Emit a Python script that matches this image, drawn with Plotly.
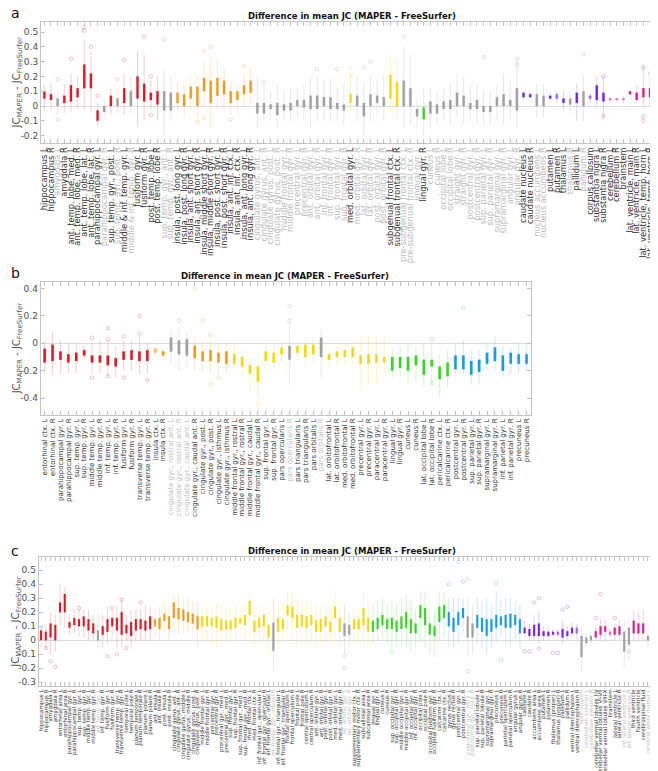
import plotly.graph_objects as go

W, H = 658, 771

# ---------------- Panel a ----------------
a_labels = [
    "hippocampus L", "hippocampus R", "amygdala L", "amygdala R",
    "ant. temp. lobe, med. L", "ant. temp. lobe, med. R", "ant. temp. lobe, lat. L", "ant. temp. lobe, lat. R",
    "parahippocampal gyr. L", "parahippocampal gyr. R", "sup. temp. gyr., post. L", "sup. temp. gyr., post. R",
    "middle & inf. temp. gyr. L", "middle & inf. temp. gyr. R", "fusiform gyr. L", "fusiform gyr. R",
    "post. temp. lobe L", "post. temp. lobe R", "sup. temp. gyr., ant. L", "sup. temp. gyr., ant. R",
    "insula, post. long gyr. L", "insula, post. long gyr. R", "insula, ant. short gyr. L", "insula, ant. short gyr. R",
    "insula, middle short gyr. L", "insula, middle short gyr. R", "insula, post. short gyr. L", "insula, post. short gyr. R",
    "insula, ant. inf. ctx. L", "insula, ant. inf. ctx. R", "insula, ant. long gyr. L", "insula, ant. long gyr. R",
    "cingulate gyrus, ant. L", "cingulate gyrus, ant. R", "cingulate gyrus, post. L", "cingulate gyrus, post. R",
    "middle frontal gyr. L", "middle frontal gyr. R", "precentral gyr. L", "precentral gyr. R",
    "ant. orbital gyr. L", "ant. orbital gyr. R", "inf. frontal gyr. L", "inf. frontal gyr. R",
    "sup. frontal gyr. L", "sup. frontal gyr. R", "med. orbital gyr. L", "med. orbital gyr. R",
    "lat. orbital gyr. L", "lat. orbital gyr. R", "post. orbital gyr. L", "post. orbital gyr. R",
    "subgenual frontal ctx. L", "subgenual frontal ctx. R", "pre-subgenual frontal ctx. L", "pre-subgenual frontal ctx. R",
    "lingual gyr. L", "lingual gyr. R", "cuneus L", "cuneus R", "occipital lobe L", "occipital lobe R",
    "straight gyr. L", "straight gyr. R", "postcentral gyr. L", "postcentral gyr. R",
    "sup. parietal gyr. L", "sup. parietal gyr. R", "supramarginal gyr. L", "supramarginal gyr. R",
    "angular gyr. L", "angular gyr. R", "caudate nucleus L", "caudate nucleus R",
    "nucleus accumbens L", "nucleus accumbens R", "putamen L", "putamen R", "thalamus L", "thalamus R",
    "pallidum L", "pallidum R", "corpus callosum", "substantia nigra L", "substantia nigra R",
    "cerebellum L", "cerebellum R", "brainstem", "lat. ventricle, main L", "lat. ventricle, main R",
    "lat. ventricle, temp. horn L", "lat. ventricle, temp. horn R", "third ventricle",
]
a_groups = ("r r k r r r r r r k r k r k r r r r k k "
            "o o o o o o o o o o o o "
            "k k k k k k k k k k k k k k "
            "y k k k k k y y k k k g "
            "k k k k k k k k k k k k k k "
            "p p k k p lp p k p k lp p p lm lm lm m m m m m").split()
a_q1 = [0.05, 0.04, 0.00, 0.02, 0.03, 0.06, 0.12, 0.12, -0.10, -0.04, 0.00, 0.00, 0.02, 0.00, 0.05, 0.03, 0.04, 0.01, -0.03, -0.03,
        0.02, 0.00, 0.05, 0.00, 0.10, 0.02, 0.07, 0.08, 0.02, 0.04, 0.08, 0.09,
        -0.05, -0.05, -0.02, -0.06, -0.03, -0.03, 0.00, -0.01, -0.02, -0.02, 0.00, -0.02, -0.02, -0.03,
        0.02, 0.00, -0.07, 0.00, 0.02, 0.00, 0.05, 0.00, 0.00, 0.00, -0.07, -0.09,
        -0.05, -0.05, -0.02, -0.02, 0.00, 0.00, -0.02, -0.02, -0.04, -0.04, 0.00, 0.00, 0.00, -0.03,
        0.06, 0.06, 0.00, 0.00, 0.05, 0.05, 0.02, 0.01, 0.02, 0.00, 0.05, 0.04, 0.03,
        0.04, 0.04, 0.04, 0.08, 0.04, 0.06, 0.06, 0.03]
a_med = [0.08, 0.06, 0.02, 0.04, 0.10, 0.09, 0.20, 0.16, -0.07, -0.02, 0.04, 0.02, 0.06, 0.03, 0.08, 0.10, 0.07, 0.06, 0.02, 0.02,
         0.05, 0.04, 0.10, 0.06, 0.15, 0.10, 0.15, 0.14, 0.05, 0.06, 0.12, 0.14,
         -0.01, 0.00, 0.00, -0.01, 0.00, 0.00, 0.02, 0.01, 0.03, 0.03, 0.03, 0.02, 0.00, -0.01,
         0.05, 0.03, -0.02, 0.03, 0.04, 0.03, 0.14, 0.10, 0.06, 0.06, -0.04, -0.05,
         -0.01, -0.02, 0.00, 0.01, 0.05, 0.03, 0.00, 0.01, -0.02, -0.02, 0.03, 0.04, 0.02, 0.04,
         0.07, 0.07, 0.04, 0.03, 0.06, 0.06, 0.03, 0.02, 0.05, 0.05, 0.06, 0.09, 0.06,
         0.045, 0.045, 0.045, 0.09, 0.07, 0.09, 0.09, 0.06]
a_q3 = [0.10, 0.08, 0.05, 0.07, 0.14, 0.12, 0.28, 0.22, -0.03, 0.00, 0.07, 0.05, 0.12, 0.10, 0.20, 0.15, 0.09, 0.10, 0.10, 0.09,
        0.09, 0.08, 0.13, 0.13, 0.19, 0.17, 0.19, 0.17, 0.10, 0.10, 0.14, 0.17,
        0.02, 0.02, 0.01, 0.02, 0.01, 0.02, 0.04, 0.04, 0.07, 0.07, 0.06, 0.06, 0.02, 0.01,
        0.08, 0.07, 0.02, 0.08, 0.07, 0.06, 0.21, 0.16, 0.17, 0.12, -0.02, -0.01,
        0.03, 0.01, 0.03, 0.04, 0.09, 0.07, 0.02, 0.04, 0.00, 0.00, 0.06, 0.08, 0.04, 0.12,
        0.09, 0.08, 0.08, 0.07, 0.07, 0.08, 0.05, 0.05, 0.09, 0.10, 0.07, 0.14, 0.09,
        0.05, 0.05, 0.05, 0.10, 0.09, 0.12, 0.12, 0.10]
a_lo = [-0.03, -0.03, -0.06, -0.05, -0.04, -0.02, -0.03, -0.04, -0.14, -0.08, -0.06, -0.05, -0.06, -0.05, -0.14, -0.10, -0.03, -0.10, -0.20, -0.10,
        -0.03, -0.08, -0.02, -0.08, 0.00, -0.15, -0.02, -0.02, -0.06, -0.03, 0.00, 0.02,
        -0.15, -0.10, -0.10, -0.15, -0.10, -0.10, -0.08, -0.10, -0.15, -0.10, -0.10, -0.10, -0.10, -0.12,
        -0.05, -0.10, -0.20, -0.10, -0.05, -0.10, -0.05, -0.08, -0.15, -0.12, -0.15, -0.20,
        -0.15, -0.12, -0.10, -0.12, -0.08, -0.12, -0.10, -0.12, -0.12, -0.12, -0.10, -0.12, -0.10, -0.15,
        0.04, 0.05, -0.08, -0.08, 0.03, 0.02, -0.02, -0.05, -0.10, -0.10, 0.02, 0.00, -0.08,
        0.03, 0.03, 0.02, 0.07, 0.03, 0.00, 0.00, 0.00]
a_hi = [0.14, 0.15, 0.10, 0.15, 0.22, 0.20, 0.45, 0.37, 0.02, 0.05, 0.12, 0.12, 0.22, 0.20, 0.37, 0.35, 0.17, 0.20, 0.25, 0.20,
        0.16, 0.14, 0.20, 0.20, 0.30, 0.33, 0.32, 0.26, 0.17, 0.14, 0.22, 0.25,
        0.20, 0.15, 0.10, 0.15, 0.10, 0.12, 0.12, 0.15, 0.20, 0.20, 0.18, 0.18, 0.12, 0.15,
        0.22, 0.20, 0.15, 0.20, 0.18, 0.20, 0.35, 0.32, 0.40, 0.35, 0.05, 0.12,
        0.12, 0.10, 0.12, 0.15, 0.22, 0.20, 0.15, 0.15, 0.10, 0.10, 0.15, 0.22, 0.18, 0.30,
        0.10, 0.09, 0.15, 0.15, 0.09, 0.10, 0.10, 0.10, 0.15, 0.20, 0.08, 0.20, 0.20,
        0.06, 0.06, 0.07, 0.11, 0.14, 0.28, 0.20, 0.15]
a_out_idx = [7, 7, 8, 5, 3, 3, 9, 13, 16, 17, 17, 19, 25, 25, 24, 26, 29, 31, 12, 34, 42, 45,
             47, 47, 49, 50, 55, 67, 72, 72, 82, 85, 85, 91, 91, 91, 92]
a_out_val = [0.53, 0.51, 0.40, 0.32, -0.09, 0.18, 0.07, 0.31, 0.47, 0.20, -0.06, 0.45, 0.37, -0.08, -0.11, 0.40, -0.09, 0.27, 0.18, 0.16, 0.25, 0.25,
             0.26, 0.21, 0.26, 0.30, 0.47, 0.33, 0.32, 0.28, 0.35, 0.20, -0.07, 0.26, -0.07, -0.10, 0.22]
a_yticks = [-0.2, -0.1, 0, 0.1, 0.2, 0.3, 0.4, 0.5]
a_yticktext = ["-0.2", "-0.1", "0", "0.1", "0.2", "0.3", "0.4", "0.5"]

# ---------------- Panel b ----------------
b_labels = [
    "entorhinal ctx. L", "entorhinal ctx. R", "parahippocampal gyr. L", "parahippocampal gyr. R",
    "sup. temp. gyr. L", "sup. temp. gyr. R", "middle temp. gyr. L", "middle temp. gyr. R",
    "inf. temp. gyr. L", "inf. temp. gyr. R", "fusiform gyr. L", "fusiform gyr. R",
    "transverse temp. gyr. L", "transverse temp. gyr. R", "insula ctx. L", "insula ctx. R",
    "cingulate gyr., rostral ant. L", "cingulate gyr., rostral ant. R", "cingulate gyr., caudal ant. L", "cingulate gyr., caudal ant. R",
    "cingulate gyr., post. L", "cingulate gyr., post. R", "cingulate gyr., isthmus L", "cingulate gyr., isthmus R",
    "middle frontal gyr., rostral L", "middle frontal gyr., rostral R", "middle frontal gyr., caudal L", "middle frontal gyr., caudal R",
    "sup. frontal gyr. L", "sup. frontal gyr. R", "pars opercularis L", "pars opercularis R",
    "pars triangularis L", "pars triangularis R", "pars orbitalis L", "pars orbitalis R",
    "lat. orbitofrontal L", "lat. orbitofrontal R", "med. orbitofrontal L", "med. orbitofrontal R",
    "precentral gyr. L", "precentral gyr. R", "paracentral gyr. L", "paracentral gyr. R",
    "lingual gyr. L", "lingual gyr. R", "cuneus L", "cuneus R",
    "lat. occipital lobe L", "lat. occipital lobe R", "pericalcarine ctx. L", "pericalcarine ctx. R",
    "postcentral gyr. L", "postcentral gyr. R", "sup. parietal gyr. L", "sup. parietal gyr. R",
    "supramarginal gyr. L", "supramarginal gyr. R", "inf. parietal gyr. L", "inf. parietal gyr. R",
    "precuneus L", "precuneus R",
]
b_groups = ("r r r r r r r r r r r r r r lo o k k k o o o o o "
            "y y y y y y y k y y y k y y y y y y y y "
            "g g g g g g g g b b b b b b b b b b").split()
b_q1 = [-0.14, -0.13, -0.12, -0.14, -0.13, -0.09, -0.14, -0.14, -0.16, -0.17, -0.12, -0.12, -0.13, -0.13, -0.07, -0.09,
        -0.06, -0.08, -0.09, -0.11, -0.13, -0.13, -0.14, -0.15,
        -0.15, -0.17, -0.22, -0.28, -0.13, -0.14, -0.08, -0.12, -0.07, -0.10, -0.08, -0.10, -0.12, -0.10, -0.10, -0.10,
        -0.15, -0.15, -0.14, -0.14, -0.20, -0.18, -0.20, -0.16, -0.23, -0.17, -0.26, -0.24,
        -0.19, -0.19, -0.23, -0.21, -0.15, -0.13, -0.20, -0.15, -0.15, -0.15]
b_med = [-0.09, -0.07, -0.09, -0.10, -0.10, -0.07, -0.11, -0.12, -0.12, -0.14, -0.09, -0.08, -0.10, -0.09, -0.05, -0.08,
         -0.01, -0.03, -0.04, -0.06, -0.09, -0.09, -0.10, -0.10,
         -0.11, -0.13, -0.19, -0.22, -0.09, -0.10, -0.06, -0.06, -0.03, -0.05, -0.05, -0.03, -0.10, -0.08, -0.08, -0.07,
         -0.12, -0.12, -0.11, -0.12, -0.15, -0.14, -0.14, -0.12, -0.17, -0.15, -0.22, -0.20,
         -0.13, -0.13, -0.18, -0.17, -0.10, -0.07, -0.14, -0.10, -0.11, -0.11]
b_q3 = [-0.04, -0.01, -0.06, -0.08, -0.07, -0.05, -0.09, -0.09, -0.09, -0.11, -0.06, -0.05, -0.06, -0.05, -0.04, -0.06,
        0.04, 0.02, 0.03, -0.02, -0.06, -0.05, -0.07, -0.06,
        -0.08, -0.10, -0.16, -0.17, -0.06, -0.07, -0.03, -0.02, -0.02, -0.01, -0.01, 0.04, -0.08, -0.06, -0.05, -0.03,
        -0.09, -0.08, -0.08, -0.10, -0.10, -0.10, -0.10, -0.09, -0.12, -0.12, -0.17, -0.14,
        -0.09, -0.09, -0.13, -0.12, -0.07, -0.03, -0.09, -0.07, -0.08, -0.08]
b_lo = [-0.22, -0.23, -0.22, -0.22, -0.22, -0.12, -0.22, -0.22, -0.24, -0.25, -0.20, -0.20, -0.22, -0.22, -0.10, -0.12,
        -0.15, -0.20, -0.18, -0.20, -0.20, -0.22, -0.22, -0.22,
        -0.22, -0.25, -0.35, -0.40, -0.20, -0.20, -0.15, -0.30, -0.12, -0.18, -0.15, -0.25, -0.18, -0.17, -0.15, -0.15,
        -0.35, -0.30, -0.30, -0.22, -0.25, -0.24, -0.30, -0.28, -0.32, -0.30, -0.40, -0.32,
        -0.22, -0.22, -0.30, -0.30, -0.20, -0.20, -0.25, -0.22, -0.22, -0.20]
b_hi = [0.02, 0.08, 0.02, 0.00, 0.00, -0.02, 0.00, 0.02, 0.02, -0.02, 0.02, 0.02, 0.05, 0.00, -0.02, -0.04,
        0.10, 0.12, 0.08, 0.05, 0.02, 0.02, 0.00, 0.00,
        0.00, -0.05, -0.10, -0.10, 0.00, 0.00, 0.03, 0.15, 0.02, 0.05, 0.05, 0.10, -0.05, -0.02, 0.00, 0.02,
        0.05, 0.05, 0.05, 0.05, -0.05, -0.02, 0.00, -0.02, 0.00, 0.00, -0.08, -0.05,
        0.00, 0.02, -0.05, -0.05, 0.00, 0.05, -0.02, -0.03, 0.00, 0.00]
b_out_idx = [7, 7, 9, 9, 9, 11, 11, 13, 13, 14, 20, 21, 22, 22, 23, 32, 32, 18, 28, 54, 50, 50]
b_out_val = [0.04, -0.25, 0.11, 0.03, -0.24, 0.05, -0.25, 0.20, 0.07, -0.27, 0.40, 0.165, 0.06, -0.30, -0.25, 0.27, 0.165, 0.165, -0.44, 0.26, 0.03, -0.29]
b_yticks = [-0.4, -0.2, 0, 0.2, 0.4]
b_yticktext = ["-0.4", "-0.2", "0", "0.2", "0.4"]

# ---------------- Panel c ----------------
c_labels = [
    "hippocampus L", "hippocampus R", "amygdala L", "amygdala R", "entorhinal area L", "entorhinal area R",
    "parahippocampal gyr. L", "parahippocampal gyr. R", "sup. temp. gyr. L", "sup. temp. gyr. R",
    "middle temp. gyr. L", "middle temp. gyr. R", "inf. temp. gyr. L", "inf. temp. gyr. R",
    "fusiform gyr. L", "fusiform gyr. R", "transverse temp. gyr. L", "transverse temp. gyr. R",
    "temporal pole L", "temporal pole R", "planum temporale L", "planum temporale R", "planum polare L", "planum polare R",
    "ant. insula L", "ant. insula R", "post. insula L", "post. insula R",
    "cingulate gyrus, ant. L", "cingulate gyrus, ant. R", "cingulate gyrus, middle L", "cingulate gyrus, middle R",
    "cingulate gyrus, post. L", "cingulate gyrus, post. R",
    "middle frontal gyr. L", "middle frontal gyr. R", "precentral gyr. L", "precentral gyr. R",
    "precentral gyr., med. L", "precentral gyr., med. R", "sup. frontal gyr. L", "sup. frontal gyr. R",
    "sup. frontal gyr., med. L", "sup. frontal gyr., med. R", "med. frontal ctx. L", "med. frontal ctx. R",
    "inf. frontal gyr., opercular L", "inf. frontal gyr., opercular R", "inf. frontal gyr., orbital L", "inf. frontal gyr., orbital R",
    "inf. frontal gyr., triangular L", "inf. frontal gyr., triangular R", "frontal operculum L", "frontal operculum R",
    "frontal pole L", "frontal pole R", "central operculum L", "central operculum R",
    "ant. orbital gyr. L", "ant. orbital gyr. R", "post. orbital gyr. L", "post. orbital gyr. R",
    "med. orbital gyr. L", "med. orbital gyr. R", "lat. orbital gyr. L", "lat. orbital gyr. R",
    "supplementary motor ctx. L", "supplementary motor ctx. R", "subcallosal area L", "subcallosal area R",
    "lingual gyr. L", "lingual gyr. R", "cuneus L", "cuneus R", "sup. occipital gyr. L", "sup. occipital gyr. R",
    "middle occipital gyr. L", "middle occipital gyr. R", "inf. occipital gyr. L", "inf. occipital gyr. R",
    "occipital pole L", "occipital pole R", "occipital fusiform gyr. L", "occipital fusiform gyr. R",
    "calcarine ctx. L", "calcarine ctx. R",
    "gyrus rectus L", "gyrus rectus R", "postcentral gyr. L", "postcentral gyr. R",
    "postcentral gyr., med. L", "postcentral gyr., med. R", "sup. parietal lobule L", "sup. parietal lobule R",
    "supramarginal gyr. L", "supramarginal gyr. R", "precuneus L", "precuneus R",
    "parietal operculum L", "parietal operculum R", "angular gyrus L", "angular gyrus R",
    "caudate L", "caudate R", "accumbens area L", "accumbens area R", "putamen L", "putamen R",
    "thalamus (proper) L", "thalamus (proper) R", "pallidum L", "pallidum R",
    "ventral diencephalon L", "ventral diencephalon R",
    "optic chiasm", "cerebellum exterior L", "cerebellum exterior R",
    "cerebellar vermal lobules I-V", "cerebellar vermal lobules VI-VII", "cerebellar vermal lobules VIII-X", "brainstem",
    "lateral ventricle L", "lateral ventricle R", "inf. lateral ventricle L", "inf. lateral ventricle R",
    "third ventricle", "fourth ventricle", "cerebrospinal fluid",
    "cerebral white matter L", "cerebral white matter R", "cerebellar white matter L", "cerebellar white matter R",
]
c_groups = ("r r r r r r r r r r r r k r r r r r r r r r r r "
            "o o o o o o o o o o "
            "y y y y y y y y y y y y y y y k y y y y y y y y y y y y y y k k y y y y "
            "g g g g g g g g g g g g g g g g "
            "b b b b k k b b b b b b b b b b "
            "p p p p p p p lp p p p lp "
            "k k k m m m lm m m k k m m m k k k k").split()
c_q1 = [0.00, 0.00, 0.02, 0.00, 0.20, 0.20, 0.09, 0.11, 0.10, 0.10, 0.07, 0.05, 0.00, 0.04, 0.06, 0.10, 0.07, 0.04, 0.05, 0.03, 0.07, 0.08, 0.07, 0.08,
        0.10, 0.08, 0.14, 0.08, 0.16, 0.15, 0.14, 0.13, 0.12, 0.08,
        0.10, 0.10, 0.10, 0.09, 0.07, 0.08, 0.08, 0.09, 0.12, 0.11, 0.18, 0.06,
        0.09, 0.10, 0.02, -0.075, 0.06, 0.08, 0.18, 0.16, 0.09, 0.10, 0.09, 0.11,
        0.06, 0.06, 0.10, 0.06, 0.16, 0.06, 0.03, 0.04, 0.08, 0.08, 0.11, 0.06,
        0.06, 0.08, 0.11, 0.08, 0.08, 0.06, 0.08, 0.09, 0.05, 0.05, 0.16, 0.11, 0.04, 0.03, 0.13, 0.16,
        0.10, 0.06, 0.11, 0.16, 0.02, 0.02, 0.09, 0.06, 0.03, 0.06, 0.09, 0.11, 0.09, 0.09, 0.11, 0.05,
        0.05, 0.03, 0.03, 0.03, 0.03, 0.03, 0.04, 0.04, 0.02, 0.03, 0.05, 0.05,
        -0.12, -0.02, 0.00, 0.02, 0.04, 0.06, 0.04, 0.04, 0.04, -0.08, -0.03, 0.05, 0.05, 0.05,
        0.00, 0.00, -0.01, -0.01]
c_med = [0.04, 0.03, 0.05, 0.07, 0.22, 0.27, 0.11, 0.13, 0.13, 0.14, 0.11, 0.09, 0.03, 0.06, 0.10, 0.13, 0.13, 0.10, 0.08, 0.08, 0.10, 0.11, 0.10, 0.12,
         0.12, 0.13, 0.16, 0.12, 0.20, 0.19, 0.18, 0.16, 0.16, 0.13,
         0.14, 0.13, 0.13, 0.12, 0.11, 0.11, 0.11, 0.12, 0.14, 0.14, 0.22, 0.10,
         0.12, 0.14, 0.06, 0.05, 0.11, 0.11, 0.20, 0.19, 0.13, 0.14, 0.12, 0.14,
         0.10, 0.10, 0.13, 0.09, 0.20, 0.11, 0.07, 0.06, 0.11, 0.12, 0.15, 0.10,
         0.10, 0.12, 0.14, 0.12, 0.12, 0.10, 0.12, 0.14, 0.10, 0.08, 0.20, 0.16, 0.08, 0.06, 0.18, 0.20,
         0.15, 0.10, 0.15, 0.19, 0.08, 0.06, 0.13, 0.10, 0.08, 0.10, 0.14, 0.14, 0.15, 0.14, 0.14, 0.10,
         0.07, 0.05, 0.06, 0.06, 0.05, 0.045, 0.05, 0.05, 0.05, 0.05, 0.07, 0.07,
         -0.02, 0.00, 0.015, 0.04, 0.07, 0.08, 0.05, 0.06, 0.07, 0.00, 0.03, 0.10, 0.09, 0.08,
         0.02, 0.015, 0.01, 0.01]
c_q3 = [0.07, 0.06, 0.12, 0.11, 0.27, 0.33, 0.13, 0.16, 0.15, 0.17, 0.15, 0.12, 0.07, 0.10, 0.15, 0.16, 0.16, 0.20, 0.11, 0.13, 0.15, 0.15, 0.14, 0.17,
        0.15, 0.16, 0.19, 0.17, 0.27, 0.23, 0.22, 0.20, 0.19, 0.17,
        0.17, 0.17, 0.16, 0.17, 0.15, 0.14, 0.14, 0.16, 0.16, 0.18, 0.28, 0.14,
        0.16, 0.18, 0.11, 0.125, 0.16, 0.15, 0.25, 0.24, 0.18, 0.18, 0.17, 0.18,
        0.14, 0.15, 0.17, 0.13, 0.24, 0.16, 0.12, 0.11, 0.15, 0.15, 0.23, 0.16,
        0.14, 0.16, 0.18, 0.15, 0.16, 0.14, 0.17, 0.20, 0.15, 0.12, 0.25, 0.23, 0.12, 0.10, 0.24, 0.25,
        0.20, 0.16, 0.20, 0.23, 0.17, 0.12, 0.18, 0.16, 0.15, 0.15, 0.18, 0.17, 0.18, 0.19, 0.18, 0.15,
        0.09, 0.08, 0.11, 0.12, 0.065, 0.06, 0.06, 0.06, 0.08, 0.065, 0.09, 0.09,
        0.03, 0.02, 0.03, 0.065, 0.10, 0.10, 0.06, 0.09, 0.10, 0.06, 0.09, 0.14, 0.12, 0.12,
        0.03, 0.03, 0.03, 0.03]
c_lo = [-0.05, -0.06, -0.10, -0.08, 0.10, 0.10, 0.05, 0.05, 0.03, 0.02, 0.00, 0.00, -0.05, -0.05, -0.02, 0.02, -0.05, -0.05, 0.00, -0.05, 0.00, 0.00, 0.00, 0.00,
        0.03, 0.00, 0.05, 0.00, 0.05, 0.05, 0.05, 0.05, 0.05, -0.05,
        0.00, -0.02, -0.03, -0.05, -0.05, 0.00, -0.02, -0.02, 0.04, 0.00, 0.02, -0.04,
        -0.02, 0.00, -0.10, -0.22, -0.04, -0.02, 0.05, 0.02, -0.05, -0.02, -0.03, 0.00,
        -0.05, -0.05, -0.02, -0.04, 0.02, -0.05, -0.10, -0.05, -0.02, -0.02, -0.05, -0.05,
        -0.03, 0.00, 0.02, -0.02, -0.05, -0.05, -0.05, -0.05, -0.08, -0.05, 0.00, -0.05, -0.10, -0.12, 0.00, 0.02,
        -0.05, -0.05, -0.02, 0.05, -0.12, -0.10, -0.02, -0.05, -0.10, -0.05, -0.02, 0.02, -0.02, -0.05, 0.00, -0.05,
        0.02, 0.00, 0.00, -0.02, 0.00, 0.00, 0.02, 0.02, -0.02, 0.00, 0.02, 0.00,
        -0.22, -0.05, -0.05, 0.00, 0.00, 0.00, 0.02, 0.00, 0.00, -0.20, -0.15, 0.00, 0.00, 0.00,
        -0.05, -0.05, -0.10, -0.12]
c_hi = [0.10, 0.10, 0.20, 0.18, 0.40, 0.38, 0.18, 0.22, 0.22, 0.22, 0.22, 0.18, 0.20, 0.18, 0.24, 0.22, 0.25, 0.30, 0.18, 0.22, 0.22, 0.22, 0.25, 0.24,
        0.22, 0.24, 0.26, 0.25, 0.33, 0.33, 0.30, 0.30, 0.28, 0.28,
        0.25, 0.25, 0.24, 0.26, 0.25, 0.22, 0.24, 0.26, 0.22, 0.26, 0.33, 0.22,
        0.25, 0.25, 0.20, 0.30, 0.26, 0.25, 0.35, 0.34, 0.28, 0.28, 0.27, 0.28,
        0.25, 0.24, 0.25, 0.20, 0.35, 0.28, 0.25, 0.20, 0.22, 0.22, 0.35, 0.28,
        0.25, 0.28, 0.30, 0.25, 0.28, 0.25, 0.30, 0.32, 0.28, 0.22, 0.35, 0.35, 0.22, 0.20, 0.35, 0.34,
        0.30, 0.30, 0.30, 0.30, 0.30, 0.25, 0.30, 0.28, 0.30, 0.25, 0.35, 0.28, 0.30, 0.30, 0.28, 0.25,
        0.14, 0.12, 0.18, 0.20, 0.10, 0.10, 0.08, 0.08, 0.14, 0.10, 0.13, 0.12,
        0.10, 0.05, 0.06, 0.10, 0.15, 0.15, 0.08, 0.12, 0.14, 0.15, 0.15, 0.22, 0.20, 0.22,
        0.05, 0.05, 0.05, 0.05]
c_out_idx = [3, 4, 2, 15, 17, 19, 9, 16, 18, 22, 105, 106, 111, 112, 118, 119, 122, 87, 90, 91, 97, 89,
             103, 104, 106, 109, 110, 98, 75, 65, 65, 91, 125, 130, 131]
c_out_val = [-0.15, -0.19, -0.055, -0.115, -0.10, -0.055, 0.23, 0.23, 0.29, 0.27, 0.27, 0.30, 0.22, 0.24, 0.16, 0.33, 0.16, 0.40, 0.42, 0.44, 0.41, 0.56,
             -0.08, -0.08, -0.06, -0.09, -0.09, -0.14, -0.08, -0.11, -0.20, -0.22, -0.08, -0.13, -0.20]
c_yticks = [-0.3, -0.2, -0.1, 0, 0.1, 0.2, 0.3, 0.4, 0.5]
c_yticktext = ["-0.3", "-0.2", "-0.1", "0", "0.1", "0.2", "0.3", "0.4", "0.5"]

for L in (a_groups, a_q1, a_med, a_q3, a_lo, a_hi):
    assert len(L) == len(a_labels), len(L)
for L in (b_groups, b_q1, b_med, b_q3, b_lo, b_hi):
    assert len(L) == len(b_labels), len(L)
for L in (c_groups, c_q1, c_med, c_q3, c_lo, c_hi):
    assert len(L) == len(c_labels), len(L)

TITLE = "Difference in mean JC (MAPER - FreeSurfer)"
YTITLE = "JC<sub>MAPER</sub> - JC<sub>FreeSurfer</sub>"

# ---------------- styling ----------------
# group -> (box fill, base rgb for whiskers / outliers)
PAL = {
    'r': ('#d81b27', (220, 40, 50)),
    'o': ('#f29b1d', (243, 156, 30)),
    'lo': ('#f6bf72', (243, 156, 30)),
    'y': ('#f3da10', (240, 215, 20)),
    'g': ('#38d426', (60, 215, 42)),
    'b': ('#1e9be0', (30, 155, 224)),
    'p': ('#7628d8', (122, 40, 220)),
    'lp': ('#a47ce8', (122, 40, 220)),
    'm': ('#de1f8a', (224, 32, 140)),
    'lm': ('#f08ac0', (224, 32, 140)),
    'k': ('#a3a3a3', (150, 150, 150)),
}


def rgba(rgb, a):
    return 'rgba(%d,%d,%d,%.2f)' % (rgb[0], rgb[1], rgb[2], a)


FONT = "DejaVu Sans"
FRAME = '#c4c4c4'

fig = go.Figure()


def px_x(p):
    return p / W


def px_y(p):
    return 1 - p / H


panels = [
    dict(name='', labels=a_labels, groups=a_groups, q1=a_q1, med=a_med, q3=a_q3, lo=a_lo, hi=a_hi,
         oi=a_out_idx, ov=a_out_val, yt=a_yticks, ytt=a_yticktext,
         xdom=(33, 652), ydom=(14, 135), yrange=(-0.25, 0.568), fs=8.3, bw=0.34,
         letter='a', lety=5, titley=8, titlex=344),
    dict(name='2', labels=b_labels, groups=b_groups, q1=b_q1, med=b_med, q3=b_q3, lo=b_lo, hi=b_hi,
         oi=b_out_idx, ov=b_out_val, yt=b_yticks, ytt=b_yticktext,
         xdom=(32.7, 522.5), ydom=(274, 406.7), yrange=(-0.521, 0.447), fs=7.0, bw=0.32,
         letter='b', lety=265, titley=268, titlex=277),
    dict(name='3', labels=c_labels, groups=c_groups, q1=c_q1, med=c_med, q3=c_q3, lo=c_lo, hi=c_hi,
         oi=c_out_idx, ov=c_out_val, yt=c_yticks, ytt=c_yticktext,
         xdom=(30.7, 656.5), ydom=(549.3, 678.3), yrange=(-0.329, 0.593), fs=5.5, bw=0.42,
         letter='c', lety=543, titley=543, titlex=344),
]

layout_axes = {}
annotations = []
for P in panels:
    xa, ya = 'x' + P['name'], 'y' + P['name']
    labels, groups = P['labels'], P['groups']
    order = []
    for g in groups:
        if g not in order:
            order.append(g)
    for g in order:
        idx = [i for i, gg in enumerate(groups) if gg == g]
        solid, base = PAL[g]
        fig.add_trace(go.Box(
            x=[labels[i] for i in idx],
            q1=[P['q1'][i] for i in idx], median=[P['med'][i] for i in idx], q3=[P['q3'][i] for i in idx],
            lowerfence=[P['lo'][i] for i in idx], upperfence=[P['hi'][i] for i in idx],
            fillcolor=solid, line=dict(color=rgba(base, 0.32), width=0.7), whiskerwidth=0, width=P['bw'],
            boxpoints=False, xaxis=xa, yaxis=ya, showlegend=False, hoverinfo='skip'))
    # outliers
    ox = [labels[i - 1] for i in P['oi']]
    oc = [rgba(PAL[groups[i - 1]][1], 0.35) for i in P['oi']]
    fig.add_trace(go.Scatter(x=ox, y=P['ov'], mode='markers', xaxis=xa, yaxis=ya,
                             marker=dict(symbol='circle-open', size=3.5, color=oc, line=dict(width=0.8, color=oc)),
                             showlegend=False, hoverinfo='skip'))

    ticktext = [
        (f'<span style="color:#bdbdbd">{lab}</span>' if g == 'k' else lab)
        for lab, g in zip(labels, groups)
    ]
    xkey = 'xaxis' + P['name']
    ykey = 'yaxis' + P['name']
    layout_axes[xkey] = dict(
        domain=[px_x(P['xdom'][0]), px_x(P['xdom'][1])], anchor=ya,
        type='category', categoryorder='array', categoryarray=labels,
        range=[-0.5, len(labels) - 0.5],
        tickmode='array', tickvals=labels, ticktext=ticktext, tickangle=-90,
        tickfont=dict(family=FONT, size=P['fs'], color='#303030'),
        ticks='inside', ticklen=4, tickcolor=FRAME, tickwidth=0.8,
        showline=True, linecolor=FRAME, linewidth=1, mirror='ticks',
        showgrid=False, zeroline=False, automargin=False)
    layout_axes[ykey] = dict(
        domain=[px_y(P['ydom'][1]), px_y(P['ydom'][0])], anchor=xa,
        range=list(P['yrange']), tickmode='array', tickvals=P['yt'], ticktext=P['ytt'],
        tickfont=dict(family=FONT, size=9, color='#505050'),
        ticks='inside', ticklen=4, tickcolor=FRAME, tickwidth=0.8,
        showline=True, linecolor=FRAME, linewidth=1, mirror='ticks',
        showgrid=False, zeroline=True, zerolinecolor='#dddddd', zerolinewidth=1, automargin=False)

    annotations.append(dict(text=P['letter'], x=px_x(1), y=px_y(P['lety']), xref='paper', yref='paper',
                            xanchor='left', yanchor='middle', showarrow=False,
                            font=dict(family=FONT, size=14, color='#111111')))
    annotations.append(dict(text='<b>' + TITLE + '</b>', x=px_x(P['titlex']), y=px_y(P['titley']),
                            xref='paper', yref='paper', xanchor='center', yanchor='middle', showarrow=False,
                            font=dict(family=FONT, size=8.5, color='#111111')))
    ymid = (P['ydom'][0] + P['ydom'][1]) / 2
    annotations.append(dict(text=YTITLE, x=px_x(9), y=px_y(ymid), xref='paper', yref='paper',
                            xanchor='center', yanchor='middle', textangle=-90, showarrow=False,
                            font=dict(family=FONT, size=10, color='#555555')))

fig.update_layout(
    width=W, height=H, margin=dict(l=0, r=0, t=0, b=0),
    paper_bgcolor='white', plot_bgcolor='white', boxmode='overlay',
    annotations=annotations, **layout_axes)

fig.write_html("out.html")
